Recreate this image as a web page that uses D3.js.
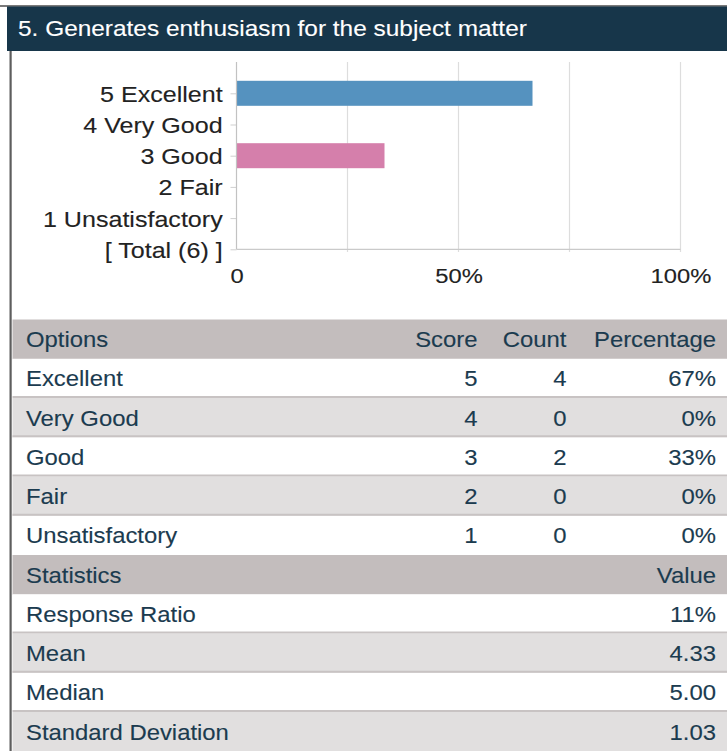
<!DOCTYPE html>
<html><head><meta charset="utf-8">
<script src="https://cdn.jsdelivr.net/npm/d3@7"></script>
<style>
html,body{margin:0;padding:0;background:#fff;}
svg{display:block;font-family:"Liberation Sans",Arial,Helvetica,sans-serif;}
</style></head>
<body>
<svg id="c" width="727" height="751"></svg>
<script>
// ---- data ----
const title = "5. Generates enthusiasm for the subject matter";
const categories = ["5 Excellent","4 Very Good","3 Good","2 Fair","1 Unsatisfactory","[ Total (6) ]"];
const barCounts = [4, 0, 2, 0, 0];
const totalCount = 6;
const xTickValues = [0, 50, 100];
const xTickLabels = ["0", "50%", "100%"];
const gridValues = [25, 50, 75, 100];

const options = ["Excellent","Very Good","Good","Fair","Unsatisfactory"];
const scores = [5, 4, 3, 2, 1];
const counts = [4, 0, 2, 0, 0];
const percentLabels = ["67%","0%","33%","0%","0%"];
const optionHeaders = ["Options","Score","Count","Percentage"];
const statHeaders = ["Statistics","Value"];
const statNames = ["Response Ratio","Mean","Median","Standard Deviation"];
const statValues = ["11%","4.33","5.00","1.03"];

// ---- styles ----
const SX = 1.085;
const barColors = ["#5592bf", null, "#d57fab", null, null];
const headBg = "#c3bdbd", altBg = "#e1dfdf", sepCol = "#c8c3c3", txtCol = "#1b3b4f";
const STROKE = 0.12;

const svg = d3.select("#c");

function txt(g, x, y, s, opt = {}) {
  const f = opt.fill || txtCol;
  return g.append("text")
    .attr("transform", `translate(${x},${y}) scale(${opt.sx || SX},1)`)
    .attr("text-anchor", opt.anchor || "start")
    .attr("font-size", opt.size || 22)
    .attr("fill", f)
    .attr("stroke", f).attr("stroke-width", STROKE)
    .text(s);
}

// frame
svg.append("rect").attr("x", 0).attr("y", 5).attr("width", 727).attr("height", 2).attr("fill", "#7a7a7a");
svg.append("rect").attr("x", 7).attr("y", 6.5).attr("width", 720).attr("height", 44.5).attr("fill", "#17364a");
txt(svg, 18, 36.3, title, {fill: "#ffffff", size: 22, sx: 1.11});

// ---- chart ----
const x = d3.scaleLinear().domain([0, 100]).range([236.5, 680.5]);
const y = d3.scalePoint().domain(categories).range([93.3, 249.3]);
const gTop = 62, gBot = 252;

const chart = svg.append("g");
chart.selectAll("line.grid").data(gridValues).join("line")
  .attr("x1", d => x(d)).attr("x2", d => x(d))
  .attr("y1", gTop).attr("y2", gBot)
  .attr("stroke", "#dddddd").attr("stroke-width", 1.2);

// bars
const barData = barCounts.map((c, i) => ({cat: categories[i], pct: c / totalCount * 100, col: barColors[i]}))
  .filter(d => d.pct > 0);
chart.selectAll("rect.bar").data(barData).join("rect")
  .attr("x", x(0))
  .attr("y", d => y(d.cat) - 12.5)
  .attr("width", d => x(d.pct) - x(0))
  .attr("height", 25)
  .attr("fill", d => d.col);

// left axis
const yAxis = chart.append("g").attr("transform", `translate(${x(0)},0)`)
  .call(d3.axisLeft(y).tickSize(6).tickSizeOuter(0));
yAxis.select(".domain").remove();
yAxis.selectAll(".tick line").attr("stroke", "#cfcfcf");
yAxis.selectAll(".tick text")
  .attr("x", null).attr("dy", null)
  .attr("transform", `translate(-13.8,8) scale(1.115,1)`)
  .attr("font-size", 22.5).attr("fill", "#222").attr("stroke", "#222").attr("stroke-width", STROKE)
  .attr("font-family", null);
chart.append("line").attr("x1", x(0)).attr("x2", x(0)).attr("y1", gTop).attr("y2", y(categories[5]))
  .attr("stroke", "#c2c2c2").attr("stroke-width", 1.2);
chart.append("line").attr("x1", x(0)).attr("x2", x(100)).attr("y1", y(categories[5])).attr("y2", y(categories[5]))
  .attr("stroke", "#cacaca").attr("stroke-width", 1.2);

// bottom axis labels
const xAxis = chart.append("g").attr("transform", `translate(0,${y(categories[5])})`)
  .call(d3.axisBottom(x).tickValues(xTickValues).tickSize(0).tickFormat((d, i) => xTickLabels[i]));
xAxis.select(".domain").remove();
xAxis.selectAll(".tick text")
  .attr("y", null).attr("dy", null)
  .attr("transform", `translate(0,34) scale(1.16,1)`)
  .attr("font-size", 20.5).attr("fill", "#222").attr("stroke", "#222").attr("stroke-width", STROKE)
  .attr("font-family", null);

// ---- tables ----
const rowH = 39.25, tableTop = 319.5;
const rows = d3.scaleBand().domain(d3.range(11)).range([tableTop, tableTop + 11 * rowH]);
const tbl = svg.append("g");
const left = 12.5, right = 727;
const colText = 26, colScore = 477.5, colCount = 566.5, colPct = 716;

function rowBg(i, fill, sep) {
  tbl.append("rect").attr("x", left).attr("y", rows(i)).attr("width", right - left).attr("height", rowH + 0.5).attr("fill", fill);
  if (sep) tbl.append("rect").attr("x", left).attr("y", rows(i) - 2).attr("width", right - left).attr("height", 2).attr("fill", sepCol);
}
const base = 27.5;

// options header
rowBg(0, headBg, false);
txt(tbl, colText, rows(0) + base, optionHeaders[0]);
txt(tbl, colScore, rows(0) + base, optionHeaders[1], {anchor: "end"});
txt(tbl, colCount, rows(0) + base, optionHeaders[2], {anchor: "end"});
txt(tbl, colPct, rows(0) + base, optionHeaders[3], {anchor: "end"});

options.forEach((o, k) => {
  const i = k + 1;
  rowBg(i, k % 2 ? altBg : "#ffffff", k > 0);
  const yb = rows(i) + base;
  txt(tbl, colText, yb, o);
  txt(tbl, colScore, yb, String(scores[k]), {anchor: "end"});
  txt(tbl, colCount, yb, String(counts[k]), {anchor: "end"});
  txt(tbl, colPct, yb, percentLabels[k], {anchor: "end"});
});

// statistics
rowBg(6, headBg, false);
txt(tbl, colText, rows(6) + base, statHeaders[0]);
txt(tbl, colPct, rows(6) + base, statHeaders[1], {anchor: "end"});
statNames.forEach((s, k) => {
  const i = k + 7;
  rowBg(i, k % 2 ? altBg : "#ffffff", k > 0);
  const yb = rows(i) + base;
  txt(tbl, colText, yb, s);
  txt(tbl, colPct, yb, statValues[k], {anchor: "end"});
});
// left border
svg.append("rect").attr("x", 9.5).attr("y", 51).attr("width", 2.2).attr("height", 700).attr("fill", "#5e5e5e");
</script>
</body></html>
